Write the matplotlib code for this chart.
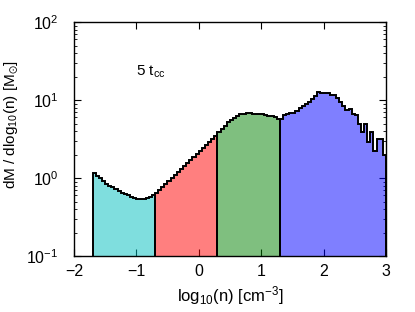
import numpy as np
import matplotlib
matplotlib.use("Agg")
import matplotlib.pyplot as plt
from matplotlib.ticker import LogLocator, FixedLocator

plt.rcParams['font.family'] = ['Liberation Sans', 'DejaVu Sans']
plt.rcParams['mathtext.fontset'] = 'custom'
plt.rcParams['mathtext.rm'] = 'Liberation Sans'
plt.rcParams['mathtext.it'] = 'Liberation Sans:italic'
plt.rcParams['mathtext.default'] = 'regular'

# histogram bins in log10(n), width 0.05
bin_width = 0.05
region_edges = [-1.7, -0.7, 0.3, 1.3, 3.0]
region_colors = ['c', 'r', 'g', 'b']

# dM/dlog10(n) per bin
cyan_vals = [1.15, 1.06, 0.99, 0.92, 0.85, 0.80, 0.76, 0.72, 0.68, 0.65,
             0.62, 0.60, 0.575, 0.56, 0.546, 0.54, 0.54, 0.55, 0.57, 0.60]
red_vals = [0.64, 0.70, 0.76, 0.84, 0.91, 1.00, 1.09, 1.20, 1.31, 1.43,
            1.57, 1.71, 1.87, 2.05, 2.24, 2.45, 2.69, 2.94, 3.21, 3.51]
green_vals = [3.85, 4.25, 4.7, 5.2, 5.6, 5.9, 6.3, 6.55, 6.7, 6.8,
              6.8, 6.7, 6.6, 6.6, 6.6, 6.5, 6.3, 6.2, 6.1, 5.7]
blue_vals = [5.8, 6.5, 6.7, 6.75, 6.8, 7.2, 7.9, 8.5, 9.0, 9.5,
             10.4, 11.4, 12.8, 12.3, 12.2, 12.2, 11.7, 11.6, 10.6, 9.5,
             8.3, 7.4, 7.8, 6.6, 6.4, 5.0, 3.9, 5.0, 2.9, 3.9,
             2.2, 3.2, 3.2, 2.0]

ymin, ymax = 0.1, 100

fig = plt.figure(figsize=(4.15, 3.12), dpi=100)
ax = fig.add_axes([0.178, 0.179, 0.752, 0.750])
ax.set_axisbelow(True)

for k, (vals, c) in enumerate(zip([cyan_vals, red_vals, green_vals, blue_vals], region_colors)):
    vals = np.array(vals)
    edges = region_edges[k] + bin_width * np.arange(len(vals) + 1)
    ax.stairs(vals, edges, baseline=ymin, fill=True, color=c, alpha=0.5, lw=0)
    ax.stairs(vals, edges, baseline=ymin, fill=False, color='k', lw=1.4)

ax.set_yscale('log')
ax.set_xlim(-2, 3)
ax.set_ylim(ymin, ymax)
ax.xaxis.set_major_locator(FixedLocator([-2, -1, 0, 1, 2, 3]))
ax.yaxis.set_major_locator(LogLocator(base=10, numticks=10))
ax.yaxis.set_minor_locator(LogLocator(base=10, subs=np.arange(2, 10), numticks=10))
ax.tick_params(which='both', direction='in', top=True, right=True, labelsize=11.5)
ax.tick_params(axis='x', pad=6)
ax.tick_params(axis='y', pad=11)
ax.tick_params(which='major', length=5, width=0.8)
ax.tick_params(which='minor', length=2.5, width=0.6)
for s in ax.spines.values():
    s.set_linewidth(1.0)

ax.set_xlabel('log$_{10}$(n) [cm$^{-3}$]', fontsize=12)
ax.set_ylabel('dM / dlog$_{10}$(n) [M$_{\\odot}$]', fontsize=11)
ax.xaxis.set_label_coords(0.5, -0.12)
ax.yaxis.set_label_coords(-0.17, 0.56)

ax.text(0.2, 0.786, '5 t$_{cc}$', transform=ax.transAxes, fontsize=11,
        ha='left', va='center')

fig.savefig('out.png', dpi=100)
